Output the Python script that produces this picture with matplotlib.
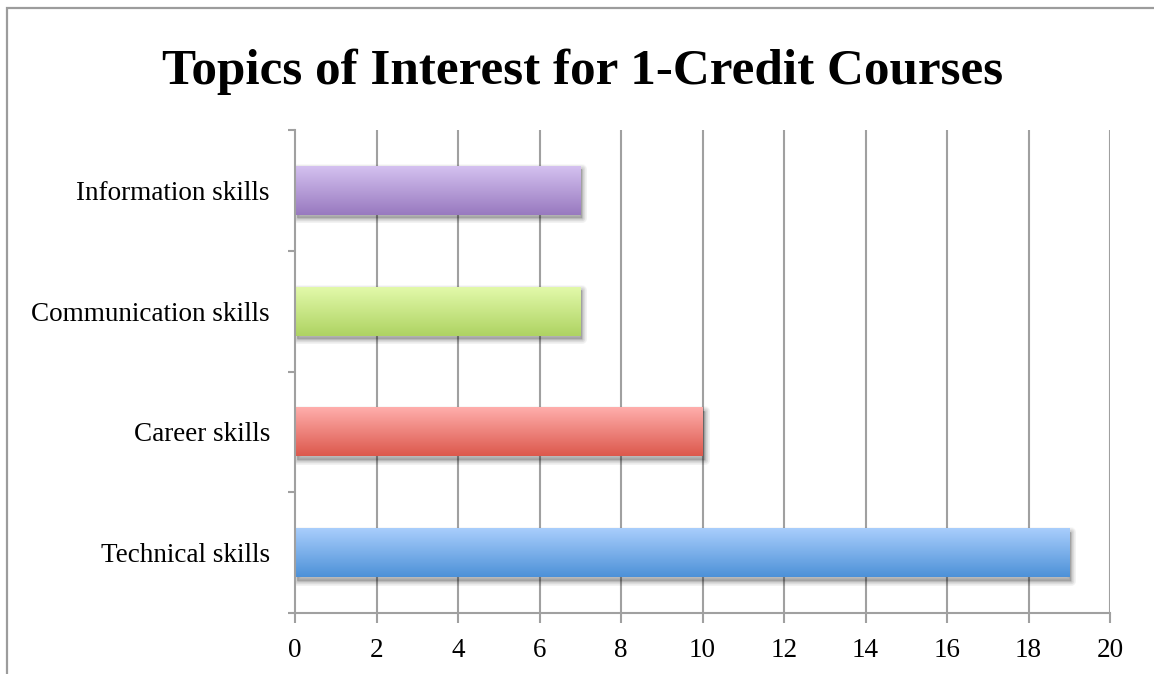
import numpy as np
import matplotlib
matplotlib.use("Agg")
import matplotlib.pyplot as plt
from matplotlib.colors import LinearSegmentedColormap
from matplotlib.patches import Rectangle
import matplotlib.transforms as mtransforms

# Survey results
categories = ["Technical skills", "Career skills", "Communication skills", "Information skills"]
counts = [19, 10, 7, 7]
x_ticks = [0, 2, 4, 6, 8, 10, 12, 14, 16, 18, 20]
title = "Topics of Interest for 1-Credit Courses"

# gradient colours per bar (top, bottom)
bar_colors = [
    ("#A9CEFC", "#4D91D8"),
    ("#FFAEAC", "#DC584C"),
    ("#E2F9AA", "#AED362"),
    ("#D4C1F0", "#9879BF"),
]

serif = ["Liberation Serif", "DejaVu Serif"]
plt.rcParams["font.family"] = serif

fig = plt.figure(figsize=(11.54, 6.74), dpi=100)
fig.patch.set_facecolor("white")

# outer chart frame (runs off the right and bottom edges)
fig.add_artist(Rectangle((7 / 1154, -0.05), 1.2, 1 - 8 / 674 + 0.05,
                         transform=fig.transFigure, fill=False,
                         edgecolor="#9C9C9C", linewidth=1.6))

ax = fig.add_axes([295 / 1154, 1 - 613 / 674, (1110 - 295) / 1154, (613 - 130) / 674])
ax.set_xlim(0, 20)
ax.set_ylim(-0.5, len(categories) - 0.5)

grid_col = "#A0A0A0"
for xv in x_ticks[1:]:
    ax.axvline(xv, color=grid_col, linewidth=1.5, zorder=1)

bar_h = 0.405
for i, (val, (ctop, cbot)) in enumerate(zip(counts, bar_colors)):
    y0 = i - bar_h / 2
    # soft drop shadow, offset down and to the right
    off = mtransforms.offset_copy(ax.transData, fig=fig, x=2.0, y=-3.5, units="dots")
    for k in range(8):
        grow = (8 - k) * 0.9
        sh = Rectangle((0, y0), val, bar_h, facecolor="black", edgecolor="black",
                       linewidth=grow, alpha=0.028, zorder=2, transform=off,
                       joinstyle="round")
        ax.add_patch(sh)
    cmap = LinearSegmentedColormap.from_list(f"g{i}", [cbot, ctop])
    grad = np.linspace(0, 1, 256).reshape(-1, 1)
    ax.imshow(grad, cmap=cmap, origin="lower", aspect="auto",
              extent=(0, val, y0, y0 + bar_h), zorder=3, interpolation="bilinear")

ax.set_xlim(0, 20)
ax.set_ylim(-0.5, len(categories) - 0.5)

for s in ("top", "right"):
    ax.spines[s].set_visible(False)
for s in ("left", "bottom"):
    ax.spines[s].set_color(grid_col)
    ax.spines[s].set_linewidth(1.5)
    ax.spines[s].set_zorder(4)

ax.set_xticks(x_ticks)
ax.set_xticklabels([str(v) for v in x_ticks], fontsize=19.5)
ax.tick_params(axis="x", direction="out", length=7, width=1.5, color=grid_col, pad=11)

ax.set_yticks(np.arange(-0.5, len(categories), 1.0))
ax.set_yticklabels([])
ax.tick_params(axis="y", which="major", direction="out", length=5, width=1.5, color=grid_col)
ax.set_yticks(np.arange(len(categories)), minor=True)
ax.set_yticklabels(categories, minor=True, fontsize=19.5)
ax.tick_params(axis="y", which="minor", length=0, pad=18)

fig.text(583 / 1154, 1 - 84 / 674, title, ha="center", va="baseline",
         fontsize=36.8, fontweight="bold")

fig.savefig("out.png", dpi=100)
